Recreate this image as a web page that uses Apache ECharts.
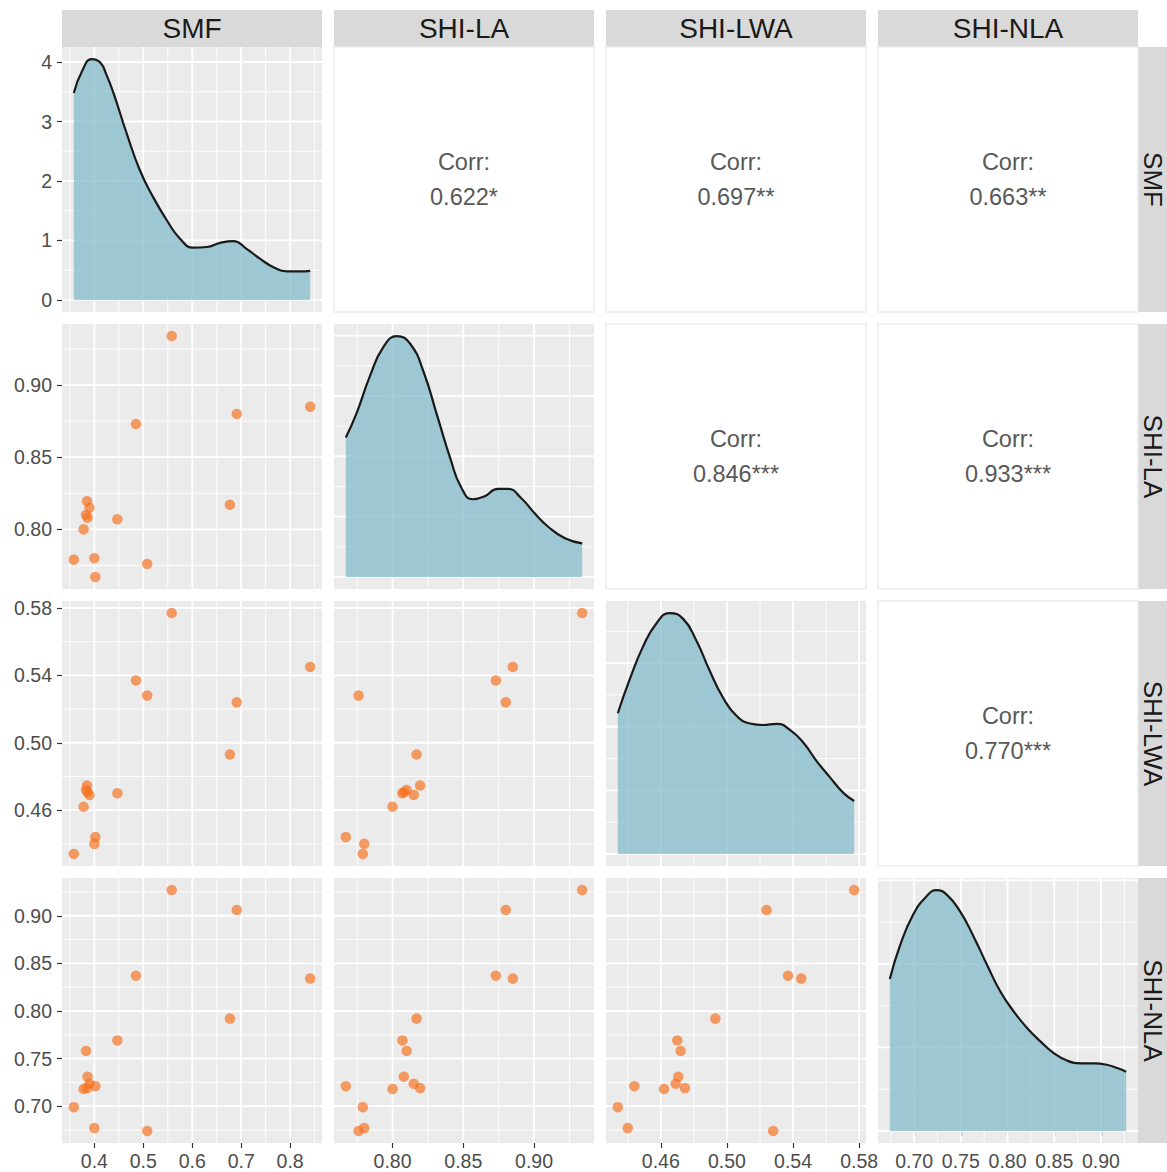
<!DOCTYPE html>
<html><head><meta charset="utf-8">
<script src="https://cdn.jsdelivr.net/npm/echarts@6/dist/echarts.min.js"></script>
<style>html,body{margin:0;padding:0;background:#fff}#c{width:1167px;height:1172px}</style>
</head><body><div id="c"></div>
<script>
// ---- data ----
const variables = ['SMF', 'SHI-LA', 'SHI-LWA', 'SHI-NLA'];
const smf    = [0.558, 0.841, 0.691, 0.485, 0.677, 0.447, 0.508, 0.358, 0.400, 0.402, 0.378, 0.383, 0.386, 0.390, 0.385];
const shiLA  = [0.934, 0.885, 0.880, 0.873, 0.817, 0.807, 0.776, 0.779, 0.780, 0.767, 0.800, 0.810, 0.808, 0.815, 0.8195];
const shiLWA = [0.577, 0.545, 0.524, 0.537, 0.493, 0.470, 0.528, 0.434, 0.440, 0.444, 0.462, 0.472, 0.4706, 0.469, 0.4746];
const shiNLA = [0.927, 0.834, 0.906, 0.837, 0.792, 0.769, 0.674, 0.699, 0.677, 0.721, 0.718, 0.758, 0.731, 0.7235, 0.719];

const densSMF = [[0.358,3.48],[0.375,3.85],[0.395,4.05],[0.412,3.99],[0.425,3.78],[0.439,3.48],[0.466,2.80],[0.493,2.18],[0.520,1.73],[0.548,1.34],[0.575,1.03],[0.602,0.88],[0.630,0.89],[0.657,0.96],[0.684,0.99],[0.711,0.86],[0.739,0.69],[0.766,0.55],[0.793,0.48],[0.821,0.48],[0.841,0.49]];
const densLA = [[0.767,5.78],[0.7747,6.8],[0.7841,8.33],[0.7936,9.53],[0.8031,9.98],[0.8126,9.65],[0.8221,8.47],[0.8316,6.67],[0.8411,4.86],[0.8482,3.75],[0.8566,3.22],[0.8648,3.33],[0.8744,3.65],[0.8815,3.65],[0.8910,3.26],[0.9004,2.64],[0.9100,2.08],[0.9218,1.6],[0.934,1.39]];
const densLWA = [[0.434,5.53],[0.4410,6.83],[0.4491,8.13],[0.4572,9.05],[0.4653,9.47],[0.4734,9.25],[0.4815,8.39],[0.4896,7.2],[0.4977,6.14],[0.5058,5.43],[0.5139,5.13],[0.5220,5.07],[0.5302,5.11],[0.5383,4.87],[0.5463,4.37],[0.5544,3.64],[0.5625,3.0],[0.5706,2.39],[0.577,2.08]];
const densNLA = [[0.674,3.64],[0.6846,4.42],[0.6989,5.18],[0.7134,5.62],[0.7241,5.77],[0.7349,5.66],[0.7492,5.26],[0.7636,4.66],[0.7780,3.98],[0.7923,3.34],[0.8067,2.86],[0.8211,2.46],[0.8355,2.14],[0.8498,1.86],[0.8642,1.68],[0.8786,1.62],[0.8929,1.62],[0.9073,1.58],[0.9181,1.50],[0.927,1.42]];

const smfTicks = [0.4, 0.5, 0.6, 0.7, 0.8];
const laTicks  = [0.80, 0.85, 0.90];
const lwaTicks = [0.46, 0.50, 0.54, 0.58];
const nlaTicks = [0.70, 0.75, 0.80, 0.85, 0.90];
const densSmfTicks = [0, 1, 2, 3, 4];
const densLaTicks  = [0, 2.5, 5, 7.5, 10];
const densLwaTicks = [0, 2.5, 5, 7.5, 10];
const densNlaTicks = [0, 2, 4, 6];

const corrPairs = [[0,1],[0,2],[0,3],[1,2],[1,3],[2,3]];
const corrText  = ['0.622*', '0.697**', '0.663**', '0.846***', '0.933***', '0.770***'];

// ---- assembly ----
const cols = [smf, shiLA, shiLWA, shiNLA];
const ticks = [smfTicks, laTicks, lwaTicks, nlaTicks];
const tickDigits = [1, 2, 2, 2];
const dens = [densSMF, densLA, densLWA, densNLA];
const densTicks = [densSmfTicks, densLaTicks, densLwaTicks, densNlaTicks];

const LEFT = 62, TOP = 47, PW = 260, PH = 265, GX = 272, GY = 277;
const FONT = '"Liberation Sans", Arial, Helvetica, sans-serif';

function lim(arr) { const mn = Math.min(...arr), mx = Math.max(...arr), s = mx - mn; return [mn - 0.05 * s, mx + 0.05 * s]; }
function densLim(d) { const mx = Math.max(...d.map(p => p[1])); return [-0.05 * mx, 1.05 * mx]; }
function majors(t, l) { return t.filter(v => v >= l[0] && v <= l[1]); }
function minors(t, l) {
  const d = t[1] - t[0], ext = [t[0] - d, ...t, t[t.length - 1] + d], out = [];
  for (let i = 0; i < ext.length - 1; i++) { const m = (ext[i] + ext[i + 1]) / 2; if (m > l[0] && m < l[1]) out.push(m); }
  return out;
}

const grid = [], xAxis = [], yAxis = [], series = [];
let gi = 0;
for (let r = 0; r < 4; r++) {
  for (let c = 0; c <= r; c++) {
    const xl = lim(cols[c]);
    const yl = (r === c) ? densLim(dens[r]) : lim(cols[r]);
    const yT = (r === c) ? densTicks[r] : ticks[r];
    grid.push({ left: LEFT + c * GX, top: TOP + r * GY, width: PW, height: PH, show: true, backgroundColor: '#EBEBEB', borderWidth: 0 });
    const showX = r === 3, showY = c === 0;
    xAxis.push({
      type: 'value', gridIndex: gi, min: xl[0], max: xl[1], position: 'bottom',
      axisLine: { show: false }, splitLine: { show: false },
      axisTick: { show: showX, customValues: ticks[c], length: 5, lineStyle: { color: '#333333', width: 1.2 } },
      axisLabel: { show: showX, customValues: ticks[c], margin: 8, color: '#4D4D4D', fontSize: 19.5, fontFamily: FONT,
        formatter: (v) => Number(v).toFixed(tickDigits[c]) }
    });
    const yDigits = (r === c) ? 0 : tickDigits[r];
    yAxis.push({
      type: 'value', gridIndex: gi, min: yl[0], max: yl[1], position: 'left',
      axisLine: { show: false }, splitLine: { show: false },
      axisTick: { show: showY, customValues: yT, length: 5, lineStyle: { color: '#333333', width: 1.2 } },
      axisLabel: { show: showY, customValues: yT, margin: 10, color: '#4D4D4D', fontSize: 19.5, fontFamily: FONT,
        formatter: (v) => Number(v).toFixed(yDigits) }
    });
    // grid lines from axis breaks
    const gl = [];
    majors(ticks[c], xl).forEach(v => gl.push([v, yl[0], 0, 1]));
    minors(ticks[c], xl).forEach(v => gl.push([v, yl[0], 0, 0]));
    majors(yT, yl).forEach(v => gl.push([xl[0], v, 1, 1]));
    minors(yT, yl).forEach(v => gl.push([xl[0], v, 1, 0]));
    series.push({
      type: 'custom', xAxisIndex: gi, yAxisIndex: gi, silent: true, z: 1, clip: false,
      encode: { x: 0, y: 1 }, data: gl,
      renderItem: (params, api) => {
        const cs = params.coordSys;
        const p = api.coord([api.value(0), api.value(1)]);
        const w = api.value(3) ? 1.8 : 0.9;
        const shape = api.value(2) === 0
          ? { x1: p[0], y1: cs.y, x2: p[0], y2: cs.y + cs.height }
          : { x1: cs.x, y1: p[1], x2: cs.x + cs.width, y2: p[1] };
        return { type: 'line', shape, style: { stroke: '#FFFFFF', lineWidth: w } };
      }
    });
    if (r === c) {
      series.push({
        type: 'line', xAxisIndex: gi, yAxisIndex: gi, data: dens[r], smooth: 0.5, symbol: 'none', z: 3, silent: true,
        lineStyle: { color: '#1A1A1A', width: 2.2 },
        areaStyle: { color: '#7DB9C9', opacity: 0.72, origin: 0 }
      });
    } else {
      series.push({
        type: 'scatter', xAxisIndex: gi, yAxisIndex: gi, z: 3, silent: true, symbolSize: 10.5,
        data: cols[c].map((v, i) => [v, cols[r][i]]),
        itemStyle: { color: '#F5711F', opacity: 0.68 }
      });
    }
    gi++;
  }
}

const graphic = [];
for (let i = 0; i < 4; i++) {
  graphic.push({ type: 'rect', shape: { x: LEFT + i * GX, y: 10, width: PW, height: 37 }, style: { fill: '#D9D9D9' }, silent: true });
  graphic.push({ type: 'text', x: LEFT + i * GX + PW / 2, y: 28.5, silent: true,
    style: { text: variables[i], fontSize: 28, fontFamily: FONT, fill: '#1A1A1A', align: 'center', verticalAlign: 'middle' } });
  graphic.push({ type: 'rect', shape: { x: LEFT + 3 * GX + PW, y: TOP + i * GY, width: 37, height: PH }, style: { fill: '#D9D9D9' }, silent: true });
  graphic.push({ type: 'text', x: 1153, y: TOP + i * GY + PH / 2, rotation: -Math.PI / 2, silent: true,
    style: { text: variables[i], fontSize: 26, lineHeight: 26, fontFamily: FONT, fill: '#1A1A1A', align: 'center', verticalAlign: 'middle' } });
}
corrPairs.forEach((p, k) => {
  const r = p[0], c = p[1];
  const x = LEFT + c * GX, y = TOP + r * GY;
  graphic.push({ type: 'rect', shape: { x: x, y: y, width: PW, height: PH }, style: { fill: '#FFFFFF', stroke: '#EBEBEB', lineWidth: 1.5 }, silent: true });
  graphic.push({ type: 'text', x: x + PW / 2, y: y + PH / 2 - 17.5, silent: true,
    style: { text: 'Corr:', fontSize: 23.5, fontFamily: FONT, fill: '#595959', align: 'center', verticalAlign: 'middle' } });
  graphic.push({ type: 'text', x: x + PW / 2, y: y + PH / 2 + 17.5, silent: true,
    style: { text: corrText[k], fontSize: 23.5, fontFamily: FONT, fill: '#595959', align: 'center', verticalAlign: 'middle' } });
});

const chart = echarts.init(document.getElementById('c'), null, { renderer: 'svg' });
chart.setOption({ animation: false, backgroundColor: '#FFFFFF', grid, xAxis, yAxis, series, graphic });
</script></body></html>
